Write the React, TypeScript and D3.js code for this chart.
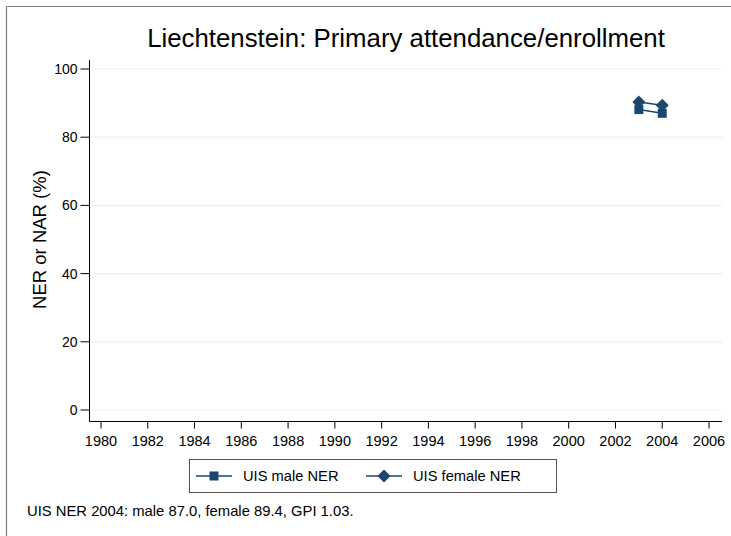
import React from "react";
import * as d3 from "d3";

const years = [2003, 2004];
const maleNER = [88.1, 87.0];
const femaleNER = [90.3, 89.4];
const xTicks = [1980, 1982, 1984, 1986, 1988, 1990, 1992, 1994, 1996, 1998, 2000, 2002, 2004, 2006];
const yTicks = [0, 20, 40, 60, 80, 100];
const titleText = "Liechtenstein: Primary attendance/enrollment";
const yLabel = "NER or NAR (%)";
const legendLabels = ["UIS male NER", "UIS female NER"];
const noteText = "UIS NER 2004: male 87.0, female 89.4, GPI 1.03.";

const COLOR = "#1a476f";
const FONT = "'Liberation Sans', Arial, Helvetica, sans-serif";

export default function App() {
  const W = 731, H = 536;
  const x = d3.scaleLinear().domain([1980, 2006]).range([101, 709]);
  const y = d3.scaleLinear().domain([0, 100]).range([410, 69]);
  const plotL = 89.5, plotR = 722, axisY = 421.5;

  const lineGen = d3.line<number>().x((_, i) => x(years[i])).y((d) => y(d));

  const Square = ({ cx, cy }: { cx: number; cy: number }) => (
    <rect x={cx - 4.5} y={cy - 4.5} width={9} height={9} fill={COLOR} />
  );
  const Diamond = ({ cx, cy }: { cx: number; cy: number }) => (
    <path d="M0,-6.5L6.5,0L0,6.5L-6.5,0Z" transform={`translate(${cx},${cy})`} fill={COLOR} />
  );

  return (
    <svg width={W} height={H} style={{ display: "block", position: "absolute", left: 0, top: 0 }} fontFamily={FONT}>
      <rect x={0} y={0} width={W} height={H} fill="#fff" />
      {/* outer frame (cropped) */}
      <line x1={6.5} y1={6.5} x2={W + 5} y2={6.5} stroke="#7f7f7f" strokeWidth={1.2} />
      <line x1={6.5} y1={6.5} x2={6.5} y2={H + 5} stroke="#7f7f7f" strokeWidth={1.2} />

      {/* gridlines */}
      {yTicks.map((t) => (
        <line key={"g" + t} x1={plotL} x2={plotR} y1={y(t)} y2={y(t)} stroke="#eaf2f3" strokeWidth={1.2} />
      ))}

      {/* axes */}
      <line x1={plotL} x2={plotL} y1={60} y2={axisY} stroke="#000" strokeWidth={1} />
      <line x1={plotL} x2={plotR} y1={axisY} y2={axisY} stroke="#000" strokeWidth={1} />

      {yTicks.map((t) => (
        <g key={"y" + t}>
          <line x1={plotL - 9} x2={plotL} y1={y(t)} y2={y(t)} stroke="#000" />
          <text x={plotL - 12} y={y(t)} dy="0.35em" textAnchor="end" fontSize={14} fill="#000">{t}</text>
        </g>
      ))}
      {xTicks.map((t) => (
        <g key={"x" + t}>
          <line x1={x(t)} x2={x(t)} y1={axisY} y2={axisY + 7} stroke="#000" />
          <text x={x(t)} y={445.5} textAnchor="middle" fontSize={14.5} fill="#000">{t}</text>
        </g>
      ))}

      <text transform={`translate(46,${(y(0) + y(100)) / 2}) rotate(-90)`} textAnchor="middle" fontSize={18.5} fill="#000">{yLabel}</text>
      <text x={406} y={47} textAnchor="middle" fontSize={25.8} fill="#000">{titleText}</text>

      {/* series */}
      <path d={lineGen(maleNER) || ""} fill="none" stroke={COLOR} strokeWidth={1.5} />
      <path d={lineGen(femaleNER) || ""} fill="none" stroke={COLOR} strokeWidth={1.5} />
      {maleNER.map((v, i) => <Square key={"m" + i} cx={x(years[i])} cy={y(v)} />)}
      {femaleNER.map((v, i) => <Diamond key={"f" + i} cx={x(years[i])} cy={y(v)} />)}

      {/* legend */}
      <rect x={189.5} y={459.5} width={367} height={33} fill="#fff" stroke="#555" strokeWidth={1} />
      <line x1={196} x2={232} y1={476} y2={476} stroke={COLOR} strokeWidth={1.5} />
      <Square cx={214} cy={476} />
      <text x={243} y={476} dy="0.35em" fontSize={14.7} fill="#000">{legendLabels[0]}</text>
      <line x1={366} x2={402} y1={476} y2={476} stroke={COLOR} strokeWidth={1.5} />
      <Diamond cx={384} cy={476} />
      <text x={413} y={476} dy="0.35em" fontSize={14.7} fill="#000">{legendLabels[1]}</text>

      <text x={27} y={516} fontSize={14.8} fill="#000">{noteText}</text>
    </svg>
  );
}
